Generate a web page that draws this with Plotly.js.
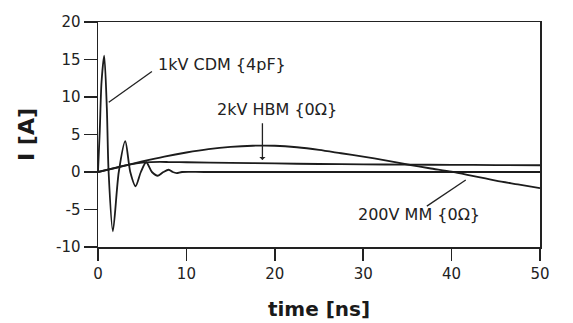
<!DOCTYPE html>
<html>
<head>
<meta charset="utf-8">
<script src="https://cdn.plot.ly/plotly-3.0.1.min.js"></script>
<style>html,body{margin:0;padding:0;background:#fff;}#chart{width:573px;height:323px;}</style>
</head>
<body>
<div id="chart"></div>
<script>
// 1kV CDM {4pF}
const cdmTime = [0, 0.2, 0.4, 0.7, 1.0, 1.2, 1.68, 2.35, 3.08, 3.65, 4.25, 4.85, 5.45, 6.1, 6.77, 7.4, 8.0, 8.45, 8.9, 9.5, 12, 20, 30, 40, 50];
const cdmCurrent = [0, 5.5, 12, 15.5, 8.5, 0, -7.9, 0, 4.1, 0, -1.9, 0, 1.3, 0, -0.5, 0, 0.3, 0, -0.15, 0, 0, 0, 0, 0, 0];
// 2kV HBM {0Ω}
const hbmTime = [0, 1, 2, 3, 4, 5, 6, 7, 8, 10, 15, 20, 25, 30, 35, 40, 45, 50];
const hbmCurrent = [0, 0.28, 0.56, 0.84, 1.08, 1.25, 1.32, 1.34, 1.33, 1.3, 1.22, 1.14, 1.07, 1.02, 0.98, 0.95, 0.93, 0.9];
// 200V MM {0Ω}
const mmTime = [0, 2.5, 5, 7.5, 10, 12.5, 15, 17.5, 20, 22.5, 25, 27.5, 30, 32.5, 35, 37.5, 40, 42.5, 45, 47.5, 50];
const mmCurrent = [0, 0.7, 1.4, 2.05, 2.6, 3.05, 3.35, 3.5, 3.5, 3.3, 2.95, 2.5, 2.05, 1.55, 1.0, 0.5, 0.05, -0.55, -1.15, -1.65, -2.15];

const xTicks = [0, 10, 20, 30, 40, 50];
const yTicks = [-10, -5, 0, 5, 10, 15, 20];
const yTickText = ['-10', '-5', '0', '5', '10', '15', '20'];

// labels: [text, x, y] and pointer [x0, y0, x1, y1]
const labelTexts = ['1kV CDM {4pF}', '2kV HBM {0Ω}', '200V MM {0Ω}'];
const labelX = [14.0, 20.3, 36.35];
const labelY = [14.35, 8.4, -5.7];
const pointerFrom = [[6.1, 13.4], [18.6, 6.7], [37.2, -4.55]];
const pointerTo = [[1.22, 9.3], [18.6, 1.6], [41.6, -1.07]];

const lineStyle = {color: '#1c1c1c', width: 1.8, shape: 'spline', smoothing: 0.8};
const traces = [
  {x: cdmTime, y: cdmCurrent, mode: 'lines', line: lineStyle, name: labelTexts[0]},
  {x: hbmTime, y: hbmCurrent, mode: 'lines', line: lineStyle, name: labelTexts[1]},
  {x: mmTime, y: mmCurrent, mode: 'lines', line: lineStyle, name: labelTexts[2]}
];

const font = {family: 'DejaVu Sans, Arial, sans-serif', size: 15, color: '#222'};
const annotations = labelTexts.map((t, i) => ({
  text: t, x: labelX[i], y: labelY[i], xref: 'x', yref: 'y', showarrow: false,
  font: {family: 'DejaVu Sans, Arial, sans-serif', size: 16, color: '#222'}
}));
annotations.push({
  text: '', x: pointerTo[1][0], y: pointerTo[1][1], ax: pointerFrom[1][0], ay: pointerFrom[1][1],
  axref: 'x', ayref: 'y', xref: 'x', yref: 'y', showarrow: true, arrowhead: 1, arrowsize: 0.8,
  arrowwidth: 1.3, arrowcolor: '#222'
});
const shapes = [0, 2].map(i => ({
  type: 'line', xref: 'x', yref: 'y',
  x0: pointerFrom[i][0], y0: pointerFrom[i][1], x1: pointerTo[i][0], y1: pointerTo[i][1],
  line: {color: '#222', width: 1.3}
}));

const layout = {
  width: 573, height: 323,
  margin: {l: 98, r: 33, t: 22, b: 76},
  paper_bgcolor: '#fff', plot_bgcolor: '#fff',
  showlegend: false,
  font: font,
  xaxis: {
    range: [0, 50], tickvals: xTicks, ticks: 'outside', ticklen: 12, tickwidth: 1.5, tickcolor: '#222',
    showline: true, linecolor: '#222', linewidth: 1.5, mirror: true, showgrid: false, zeroline: false,
    title: {text: '<b>time [ns]</b>', font: {family: 'DejaVu Sans, Arial, sans-serif', size: 20, color: '#1a1a1a'}, standoff: 20}
  },
  yaxis: {
    range: [-10, 20], tickvals: yTicks, ticktext: yTickText, ticks: 'outside', ticklen: 13, tickwidth: 1.5, tickcolor: '#222',
    showline: true, linecolor: '#222', linewidth: 1.5, mirror: true, showgrid: false, zeroline: false,
    title: {text: '<b>I [A]</b>', font: {family: 'DejaVu Sans, Arial, sans-serif', size: 22, color: '#1a1a1a'}, standoff: 15}
  },
  annotations: annotations,
  shapes: shapes
};

Plotly.newPlot('chart', traces, layout, {staticPlot: true});
</script>
</body>
</html>
